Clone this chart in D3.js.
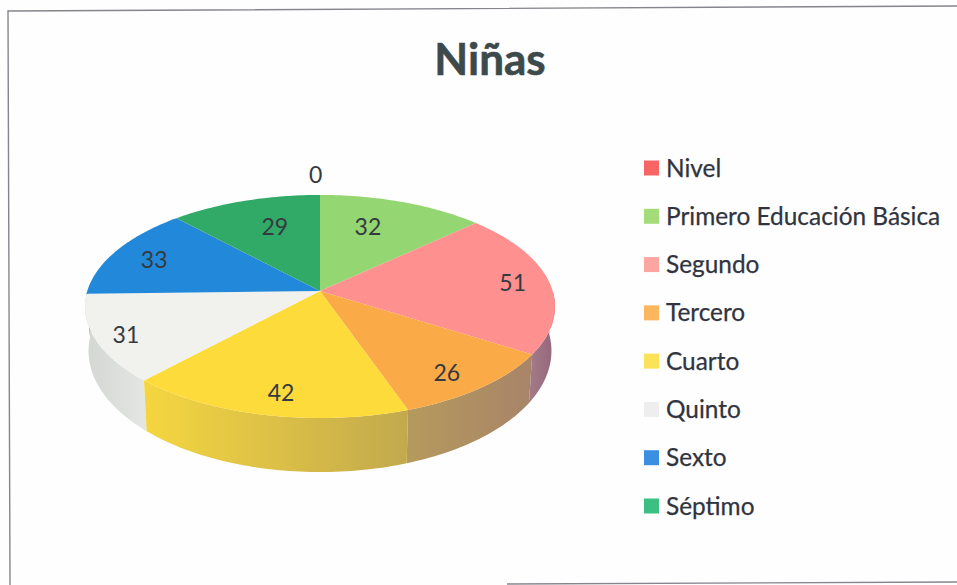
<!DOCTYPE html>
<html>
<head>
<meta charset="utf-8">
<script src="https://cdnjs.cloudflare.com/ajax/libs/d3/7.8.5/d3.min.js"></script>
<style>
html,body{margin:0;padding:0;background:#fefefe;overflow:hidden}
svg{display:block}
text{font-family:Lato,"Open Sans",sans-serif}
</style>
</head>
<body>
<svg id="chart" width="957" height="585"></svg>
<script>
// Data
const title = "Niñas";
const categories = ["Nivel","Primero Educación Básica","Segundo","Tercero","Cuarto","Quinto","Sexto","Séptimo"];
const values = [0,32,51,26,42,31,33,29];

// Styles
const topColors = ["#f96565","#93d672","#ff9090","#fbaa48","#fddb3a","#f1f2ee","#2288da","#30aa66"];
const legendColors = ["#f96565","#a4dc7a","#fda5a0","#fcb660","#fce257","#eeeeee","#3b8fe3","#3bbf83"];
const wallColors = [["#ddd","#ddd"],["#7fae66","#7fae66"],["#a57a88","#93677a"],["#b59a5c","#a88469"],["#f5d640","#c2a94d"],["#d3d6d2","#e4e6e2"],["#1b6cae","#1b6cae"],["#258852","#258852"]];
const labelRadius = [1.24,0.675,0.84,0.84,0.838,0.877,0.798,0.67];
const labelTurn = [-1,-4.2,0,2.4,-1.6,-1.4,-1.2,3];

// Perspective disc: a circle seen from the front, tilted
const cx = 320, persp = 0.139;
const topDisc = {cy:291, rx:232.7, ry:109.4};
const baseDisc = {cy:334, rx:229.2, ry:118.9};
const project = (disc, a, r=1) => {
  const u = r*Math.sin(a), v = -r*Math.cos(a), d = 1 - persp*v;
  return [cx + disc.rx*u/d, disc.cy + disc.ry*v/d];
};
const arcPoints = (disc, a0, a1) => {
  const n = Math.max(2, Math.ceil(Math.abs(a1-a0)/0.02));
  return d3.range(n+1).map(i => project(disc, a0 + (a1-a0)*i/n));
};

const svg = d3.select("#chart");
const defs = svg.append("defs");
const line = d3.line();

const pie = d3.pie().sort(null).startAngle(0).endAngle(2*Math.PI);
const slices = pie(values).map((s,i)=>({...s, i}));

// Frame
const frame = svg.append("g").attr("fill","none").attr("stroke","#85858c").attr("stroke-width",1.4);
frame.append("path").attr("d", line([[10,585],[8,11],[957,6]]));
frame.append("path").attr("d", line([[507,584],[957,582]]));

// Title
svg.append("text").attr("x",490).attr("y",75).attr("text-anchor","middle")
  .attr("font-size",44).attr("font-weight",700).attr("stroke","#3d4a4c").attr("stroke-width",0.6)
  .attr("fill","#3d4a4c").text(title);

// Side walls: visible front half only, back to front
const wallStart = Math.PI/2, wallEnd = 3*Math.PI/2;
const walls = slices
  .map(s => ({...s, a0:Math.max(s.startAngle,wallStart), a1:Math.min(s.endAngle,wallEnd)}))
  .filter(s => s.a1 > s.a0)
  .sort((p,q)=>Math.abs(Math.PI-(q.a0+q.a1)/2)-Math.abs(Math.PI-(p.a0+p.a1)/2));

walls.forEach(s=>{
  const topArc = arcPoints(topDisc,s.a0,s.a1), baseArc = arcPoints(baseDisc,s.a1,s.a0);
  const xs = d3.extent(topArc.concat(baseArc),p=>p[0]);
  const id = "wall"+s.i;
  const grad = defs.append("linearGradient").attr("id",id).attr("gradientUnits","userSpaceOnUse")
    .attr("x1",xs[0]).attr("x2",xs[1]).attr("y1",0).attr("y2",0);
  grad.append("stop").attr("offset",0).attr("stop-color",wallColors[s.i][0]);
  grad.append("stop").attr("offset",1).attr("stop-color",wallColors[s.i][1]);
  svg.append("path").attr("d",line(topArc.concat(baseArc))+"Z").attr("fill",`url(#${id})`);
});

// Top face
svg.append("g").selectAll("path").data(slices.filter(s=>s.value>0)).join("path")
  .attr("d",s=>line([project(topDisc,0,0)].concat(arcPoints(topDisc,s.startAngle,s.endAngle)))+"Z")
  .attr("fill",s=>topColors[s.i]);

// Value labels
svg.append("g").selectAll("text").data(slices).join("text")
  .attr("transform",s=>{
    const mid=(s.startAngle+s.endAngle)/2 + labelTurn[s.i]*Math.PI/180;
    const p=project(topDisc,mid,labelRadius[s.i]);
    return `translate(${p[0]},${p[1]})`;
  })
  .attr("text-anchor","middle").attr("dy","0.35em")
  .attr("font-size",23).attr("fill","#353a40").text(s=>s.value);

// Legend
const legendY = d3.scalePoint().domain(categories).range([168,506]);
const legend = svg.append("g").selectAll("g").data(categories).join("g")
  .attr("transform",d=>`translate(644,${legendY(d)})`);
legend.append("rect").attr("x",0).attr("y",-7.5).attr("width",15).attr("height",15)
  .attr("fill",(d,i)=>legendColors[i]);
legend.append("text").attr("x",22).attr("dy","0.35em").attr("font-size",24.4)
  .attr("stroke","#30343f").attr("stroke-width",0.25)
  .attr("fill","#30343f").text(d=>d);
</script>
</body>
</html>
